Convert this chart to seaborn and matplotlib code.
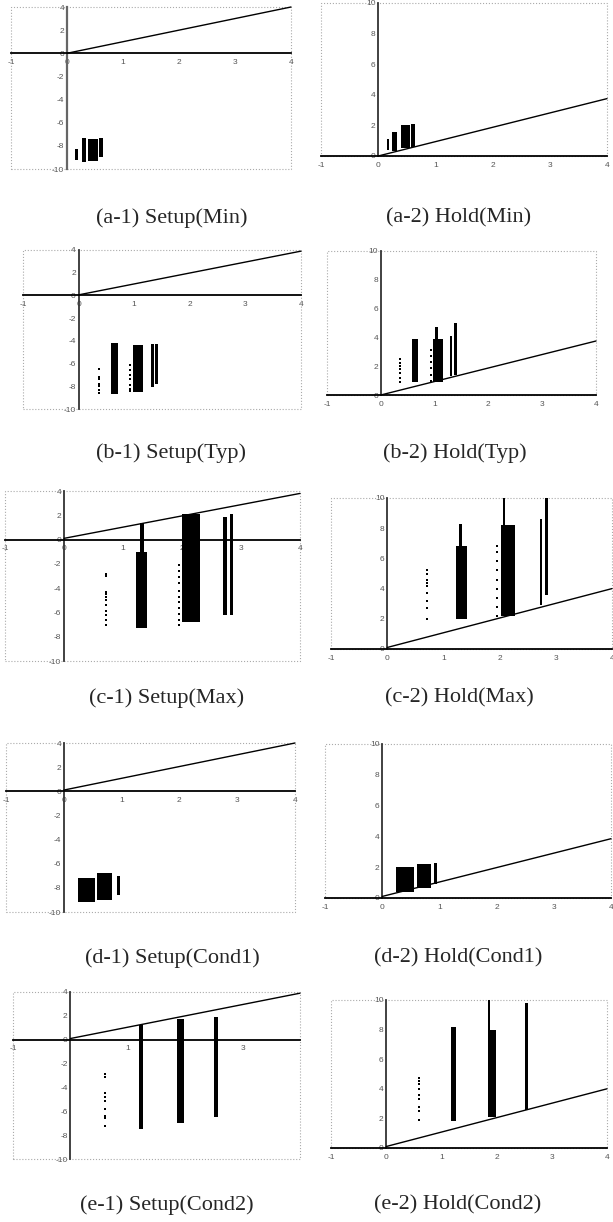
#!/usr/bin/env python3
"""
Setup / hold slack scatter panels (ten small plots in a 5x2 grid).
"""

import matplotlib
matplotlib.use('Agg')
import matplotlib.pyplot as plt
from matplotlib.patches import Rectangle
import seaborn as sns

# ---- data ----
# dense point clouds: (x_left, x_right, y_low, y_high)
a1_bands = [(0.14, 0.19, -9.2, -8.3), (0.26, 0.34, -9.4, -7.3),
            (0.38, 0.56, -9.3, -7.4), (0.58, 0.64, -9.0, -7.3)]
a2_bands = [(0.15, 0.19, 0.4, 1.1), (0.24, 0.33, 0.35, 1.6),
            (0.40, 0.56, 0.5, 2.0), (0.57, 0.65, 0.6, 2.1)]
b1_bands = [(0.58, 0.70, -8.7, -4.2), (0.97, 1.15, -8.5, -4.4),
            (1.31, 1.35, -8.1, -4.3), (1.38, 1.42, -7.8, -4.3)]
b2_bands = [(0.58, 0.70, 0.9, 3.9), (0.97, 1.15, 0.9, 3.9), (1.00, 1.06, 3.9, 4.7),
            (1.29, 1.33, 1.3, 4.1), (1.36, 1.41, 1.4, 5.0)]
c1_bands = [(1.22, 1.40, -7.3, -1.0), (1.28, 1.36, -1.0, 1.4), (2.00, 2.30, -6.8, 2.1),
            (2.70, 2.76, -6.2, 1.9), (2.81, 2.86, -6.2, 2.1)]
c2_bands = [(1.22, 1.42, 2.0, 6.8), (1.27, 1.33, 6.8, 8.3), (2.02, 2.28, 2.2, 8.2),
            (2.06, 2.10, 8.2, 10.0), (2.71, 2.76, 2.9, 8.6), (2.81, 2.87, 3.6, 10.0)]
d1_bands = [(0.24, 0.54, -9.2, -7.2), (0.57, 0.84, -9.0, -6.8), (0.92, 0.97, -8.6, -7.0)]
d2_bands = [(0.24, 0.55, 0.4, 2.0), (0.60, 0.86, 0.65, 2.2), (0.90, 0.95, 0.9, 2.3)]
e1_bands = [(1.19, 1.27, -7.5, 1.2), (1.85, 1.98, -7.0, 1.7), (2.50, 2.57, -6.5, 1.9)]
e2_bands = [(1.18, 1.26, 1.8, 8.2), (1.84, 1.99, 2.1, 8.0), (1.84, 1.88, 8.0, 10.0),
            (2.52, 2.57, 2.6, 9.8)]

# sparse points: x, list of y
b1_sparse = [(0.36, [-6.5, -7.2, -7.4, -7.8, -8.0, -8.3, -8.6]),
             (0.93, [-6.1, -6.6, -7.0, -7.4, -7.9, -8.2, -8.4])]
b2_sparse = [(0.35, [0.9, 1.2, 1.5, 1.8, 2.0, 2.2, 2.5]),
             (0.94, [1.0, 1.4, 1.9, 2.3, 2.7, 3.1])]
c1_sparse = [(0.71, [-2.8, -3.0, -4.3, -4.5, -4.7, -5.0, -5.4, -5.9, -6.2, -6.6, -7.0]),
             (1.95, [-2.1, -2.6, -3.1, -3.6, -4.2, -4.7, -5.1, -5.6, -6.1, -6.6, -7.0])]
c2_sparse = [(0.70, [2.0, 2.7, 3.2, 3.7, 4.2, 4.4, 4.6, 5.0, 5.2]),
             (1.96, [2.2, 2.8, 3.4, 4.0, 4.6, 5.2, 5.8, 6.4, 6.8])]
e1_sparse = [(0.60, [-2.9, -3.1, -4.5, -4.8, -5.1, -5.8, -6.4, -6.6, -7.2])]
e2_sparse = [(0.59, [1.9, 2.5, 2.8, 3.3, 3.6, 4.0, 4.3, 4.5, 4.7])]

# reference line: y at x=0 and y at x=4
ref_lines = {
    'a1': (0.0, 4.0), 'a2': (0.0, 3.75), 'b1': (0.05, 3.9), 'b2': (0.0, 3.75),
    'c1': (0.1, 3.8), 'c2': (0.1, 4.0), 'd1': (0.1, 4.0), 'd2': (0.1, 3.85),
    'e1': (0.1, 3.9), 'e2': (0.1, 4.0),
}

captions = {
    'a1': '(a-1) Setup(Min)', 'a2': '(a-2) Hold(Min)',
    'b1': '(b-1) Setup(Typ)', 'b2': '(b-2) Hold(Typ)',
    'c1': '(c-1) Setup(Max)', 'c2': '(c-2) Hold(Max)',
    'd1': '(d-1) Setup(Cond1)', 'd2': '(d-2) Hold(Cond1)',
    'e1': '(e-1) Setup(Cond2)', 'e2': '(e-2) Hold(Cond2)',
}

x_ticks = [-1, 0, 1, 2, 3, 4]
setup_y_ticks = [-10, -8, -6, -4, -2, 0, 2, 4]
hold_y_ticks = [0, 2, 4, 6, 8, 10]

bands = {'a1': a1_bands, 'a2': a2_bands, 'b1': b1_bands, 'b2': b2_bands,
         'c1': c1_bands, 'c2': c2_bands, 'd1': d1_bands, 'd2': d2_bands,
         'e1': e1_bands, 'e2': e2_bands}
sparse = {'b1': b1_sparse, 'b2': b2_sparse, 'c1': c1_sparse, 'c2': c2_sparse,
          'e1': e1_sparse, 'e2': e2_sparse}

# ---- layout (pixel boxes: left, right, top, bottom) ----
W, H = 613, 1222
boxes = {
    'a1': (11, 291, 7, 169), 'a2': (321, 607, 3, 156),
    'b1': (23, 301, 250, 409), 'b2': (327, 596, 251, 395),
    'c1': (5, 300, 491, 661), 'c2': (331, 612, 498, 649),
    'd1': (6, 295, 743, 912), 'd2': (325, 611, 744, 898),
    'e1': (13, 300, 992, 1159), 'e2': (331, 607, 1000, 1148),
}
caption_pos = {
    'a1': (172, 218), 'a2': (459, 218), 'b1': (171, 453), 'b2': (455, 453),
    'c1': (167, 698), 'c2': (459, 698), 'd1': (172, 958), 'd2': (458, 958),
    'e1': (167, 1205), 'e2': (458, 1205),
}

sns.set_style('white')
plt.rcParams['font.family'] = ['Liberation Sans', 'DejaVu Sans']

fig = plt.figure(figsize=(W / 100, H / 100), dpi=100)

for key, (l, r, t, b) in boxes.items():
    setup = key.endswith('1')
    ax = fig.add_axes([l / W, 1 - b / H, (r - l) / W, (b - t) / H])
    ax.set_facecolor('none')
    ylim = (-10, 4) if setup else (0, 10)
    ax.set_xlim(-1, 4)
    ax.set_ylim(*ylim)

    # dense clouds
    for x0, x1, y0, y1 in bands[key]:
        ax.bar((x0 + x1) / 2, y1 - y0, bottom=y0, width=x1 - x0,
               color='black', linewidth=0, zorder=3)
    # sparse points
    for sx, ys in sparse.get(key, []):
        sns.scatterplot(x=[sx] * len(ys), y=ys, ax=ax, color='black', s=2.5,
                        marker='s', linewidth=0, zorder=3, legend=False)

    # reference line
    y_start, y_end = ref_lines[key]
    ax.plot([0, 4], [y_start, y_end], color='black', lw=1.0, zorder=4,
            clip_on=False)

    # axes through zero
    for side in ['top', 'right']:
        ax.spines[side].set_visible(False)
    ax.spines['left'].set_position(('data', 0))
    ax.spines['bottom'].set_position(('data', 0))
    ax.spines['left'].set_color('#666666' if key == 'a1' else '#333333')
    ax.spines['left'].set_linewidth(1.6 if key == 'a1' else 1.3)
    ax.spines['bottom'].set_color('black')
    ax.spines['bottom'].set_linewidth(1.3)
    ax.spines['left'].set_zorder(2)

    # dotted frame
    ax.add_patch(Rectangle((0, 0), 1, 1, transform=ax.transAxes, fill=False,
                           ls=':', lw=0.8, ec='#aaaaaa', clip_on=False, zorder=1))

    ax.set_xticks(x_ticks)
    if key == 'e1':
        ax.set_xticklabels(['-1', '', '1', '', '3', ''])
    else:
        ax.set_xticklabels([str(v) for v in x_ticks])
    yt = setup_y_ticks if setup else hold_y_ticks
    ax.set_yticks(yt)
    ax.set_yticklabels([str(v) for v in yt])
    ax.tick_params(axis='both', direction='in', length=2.5, width=0.8,
                   labelsize=6, labelcolor='#555555', color='#333333', pad=2)
    ax.tick_params(axis='x', pad=4)
    ax.grid(False)

    cx, cy = caption_pos[key]
    fig.text(cx / W, 1 - cy / H, captions[key], ha='center', va='center',
             fontsize=16, family='Liberation Serif')

fig.savefig('out.png', dpi=100)
